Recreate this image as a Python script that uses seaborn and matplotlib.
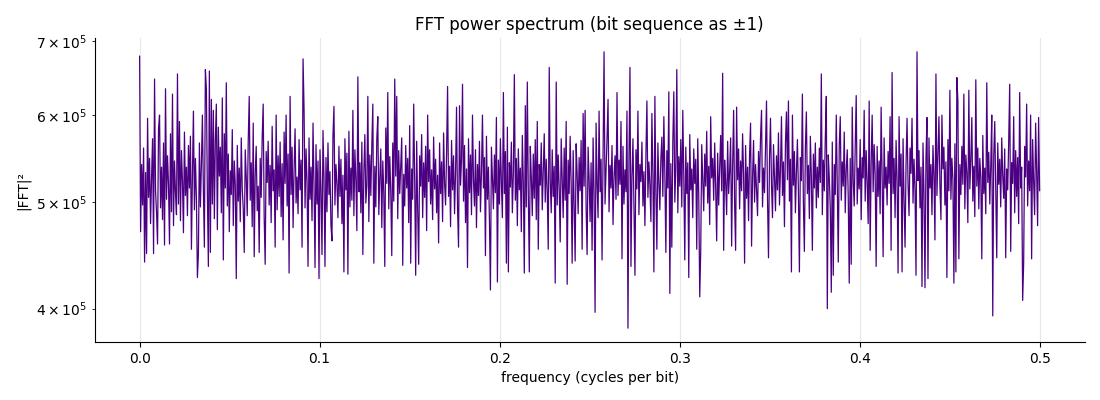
import numpy as np
import pandas as pd
import matplotlib
matplotlib.use("Agg")
import matplotlib.pyplot as plt
import seaborn as sns

# |FFT|^2 values, in units of 1e3, one per frequency bin
power_k = [
    679, 470, 541, 497, 560, 441, 532, 449, 596, 505, 548, 478, 526, 571, 449, 647, 512, 489, 458, 583,
    600, 494, 538, 482, 566, 457, 634, 503, 551, 519, 458, 577, 490, 627, 476, 545, 511, 487, 654, 498,
    592, 481, 557, 523, 469, 579, 507, 538, 486, 563, 515, 574, 453, 529, 605, 492, 548, 504, 427, 448,
    566, 495, 541, 600, 512, 455, 660, 634, 509, 437, 658, 450, 620, 498, 606, 483, 569, 614, 472, 585,
    528, 561, 489, 622, 443, 577, 515, 642, 496, 553, 470, 534, 508, 582, 476, 545, 519, 426, 563, 501,
    537, 480, 572, 514, 493, 450, 558, 527, 486, 569, 624, 502, 543, 475, 590, 446, 531, 562, 491, 517,
    450, 548, 505, 573, 614, 484, 439, 556, 521, 568, 497, 540, 479, 586, 512, 535, 455, 600, 492, 551,
    506, 567, 485, 542, 462, 579, 520, 600, 496, 553, 431, 624, 508, 561, 474, 536, 583, 499, 527, 488,
    570, 513, 546, 455, 675, 608, 494, 559, 521, 437, 572, 503, 538, 481, 590, 517, 436, 564, 498, 545,
    426, 558, 512, 448, 581, 527, 437, 549, 490, 566, 508, 533, 476, 461, 574, 611, 497, 541, 519, 484,
    562, 506, 547, 478, 529, 432, 571, 513, 554, 430, 580, 495, 537, 502, 606, 486, 558, 524, 471, 650,
    511, 543, 489, 567, 448, 532, 576, 499, 518, 624, 480, 552, 507, 563, 614, 440, 539, 495, 571, 598,
    487, 526, 559, 474, 545, 510, 437, 584, 520, 629, 493, 550, 512, 447, 566, 501, 647, 528, 624, 483,
    557, 509, 541, 572, 438, 530, 496, 563, 515, 548, 479, 587, 440, 536, 503, 614, 524, 429, 568, 492,
    439, 551, 517, 576, 484, 543, 505, 562, 471, 600, 522, 558, 498, 535, 482, 573, 514, 547, 489, 529,
    459, 566, 509, 544, 480, 578, 520, 497, 555, 637, 506, 539, 475, 569, 513, 551, 488, 532, 610, 494,
    455, 612, 518, 547, 640, 501, 563, 479, 536, 436, 571, 510, 552, 487, 600, 523, 496, 558, 474, 541,
    507, 568, 490, 532, 600, 515, 549, 447, 574, 503, 538, 481, 416, 561, 525, 493, 552, 510, 597, 423,
    546, 498, 571, 520, 484, 629, 509, 556, 440, 585, 432, 543, 516, 567, 489, 531, 653, 502, 548, 476,
    559, 513, 537, 470, 575, 521, 431, 612, 495, 643, 508, 432, 562, 527, 486, 553, 504, 570, 482, 592,
    453, 541, 518, 566, 492, 535, 577, 500, 547, 511, 453, 663, 523, 489, 558, 506, 539, 422, 643, 497,
    552, 515, 460, 571, 526, 484, 560, 502, 592, 421, 546, 509, 574, 520, 440, 557, 498, 442, 565, 531,
    488, 549, 512, 569, 453, 602, 517, 606, 494, 448, 561, 525, 480, 543, 452, 572, 509, 397, 590, 520,
    484, 605, 511, 547, 443, 556, 685, 498, 534, 572, 620, 490, 540, 515, 563, 477, 528, 551, 503, 629,
    507, 546, 519, 592, 444, 562, 498, 535, 511, 605, 384, 549, 663, 437, 527, 571, 493, 429, 558, 514,
    605, 487, 541, 522, 567, 496, 533, 476, 552, 618, 505, 544, 518, 480, 602, 529, 432, 624, 510, 453,
    566, 521, 492, 548, 573, 506, 598, 531, 450, 557, 515, 630, 413, 542, 455, 568, 630, 500, 537, 660,
    489, 550, 517, 570, 495, 606, 528, 443, 561, 509, 543, 427, 576, 513, 536, 484, 559, 520, 547, 453,
    571, 508, 410, 452, 564, 524, 491, 553, 517, 580, 499, 539, 477, 598, 526, 548, 502, 566, 515, 461,
    554, 497, 537, 575, 512, 655, 452, 546, 521, 487, 568, 509, 533, 572, 456, 540, 606, 498, 452, 610,
    524, 559, 493, 545, 512, 577, 530, 440, 563, 504, 538, 481, 552, 590, 456, 527, 569, 500, 541, 514,
    486, 556, 521, 573, 606, 495, 537, 510, 562, 618, 503, 445, 548, 596, 519, 484, 564, 528, 491, 551,
    513, 578, 497, 535, 598, 507, 544, 475, 566, 604, 524, 618, 501, 547, 432, 600, 518, 556, 489, 532,
    570, 512, 432, 549, 523, 627, 498, 451, 561, 604, 509, 540, 483, 574, 527, 452, 553, 515, 566, 494,
    538, 505, 560, 521, 654, 487, 546, 512, 573, 624, 400, 552, 526, 493, 414, 567, 429, 541, 508, 600,
    519, 441, 563, 598, 502, 544, 517, 579, 489, 535, 558, 506, 422, 548, 439, 610, 523, 496, 561, 625,
    498, 537, 514, 570, 482, 549, 526, 606, 501, 557, 520, 478, 618, 452, 543, 600, 511, 564, 530, 437,
    562, 506, 545, 488, 610, 527, 446, 572, 515, 538, 497, 556, 520, 598, 452, 656, 509, 548, 484, 569,
    524, 431, 598, 517, 553, 432, 571, 503, 455, 542, 596, 519, 486, 560, 531, 596, 499, 547, 512, 429,
    685, 523, 557, 494, 538, 419, 566, 510, 418, 549, 597, 426, 572, 515, 541, 487, 563, 528, 462, 654,
    507, 550, 598, 518, 482, 600, 536, 561, 497, 544, 427, 570, 512, 632, 503, 548, 525, 422, 565, 432,
    649, 619, 444, 541, 508, 562, 519, 627, 493, 552, 531, 479, 632, 514, 546, 597, 501, 539, 485, 646,
    517, 560, 493, 548, 526, 444, 575, 509, 537, 488, 642, 521, 555, 498, 540, 600, 394, 551, 592, 511,
    445, 566, 519, 547, 495, 572, 528, 504, 559, 445, 536, 513, 568, 640, 451, 543, 520, 598, 489, 557,
    506, 549, 478, 629, 515, 538, 407, 440, 562, 527, 614, 496, 545, 512, 600, 444, 570, 523, 487, 590,
    534, 476, 597, 512,
]

power = np.array(power_k) * 1000.0
freq = np.linspace(0.0, 0.5, len(power))
df = pd.DataFrame({"freq": freq, "power": power})

sns.set_style("ticks")
plt.rcParams["font.family"] = ["DejaVu Sans"]
plt.rcParams.update({
    "text.color": "black",
    "axes.labelcolor": "black",
    "axes.edgecolor": "black",
    "xtick.color": "black",
    "ytick.color": "black",
})

fig, ax = plt.subplots(figsize=(11, 4), dpi=100)
fig.subplots_adjust(left=0.086, right=0.986, top=0.905, bottom=0.145)

sns.lineplot(data=df, x="freq", y="power", color="indigo", linewidth=0.9, ax=ax)
ax.set_yscale("log")

ax.set_title("FFT power spectrum (bit sequence as ±1)", fontsize=12)
ax.set_xlabel("frequency (cycles per bit)", fontsize=10)
ax.set_ylabel("|FFT|²", fontsize=10)
ax.grid(True, axis="x", color="#b0b0b0", alpha=0.3)
sns.despine(ax=ax)

fig.savefig("out.png", dpi=100)
